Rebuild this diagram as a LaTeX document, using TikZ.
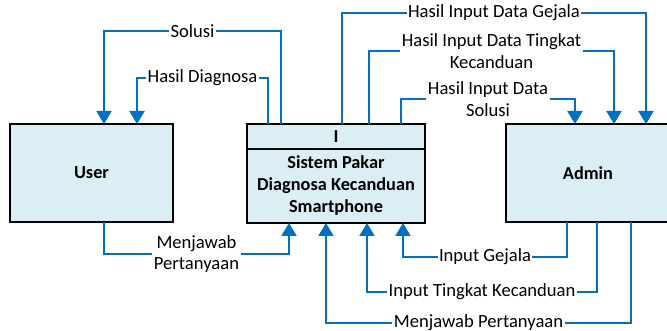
\documentclass[tikz,border=0pt]{standalone}
\usepackage{fontspec}
\setmainfont{Carlito}
\usetikzlibrary{positioning,arrows.meta}

\definecolor{boxfill}{RGB}{219,238,244}
\definecolor{flowblue}{RGB}{0,112,192}

\tikzset{
  box/.style={draw=black,line width=2.5pt,fill=boxfill,outer sep=0pt,
    align=center,font=\fontsize{18.3}{22}\selectfont\bfseries},
  flow/.style={draw=flowblue,line width=2pt,
    -{Triangle[width=15pt,length=13pt]}},
  lbl/.style={fill=white,inner xsep=1.5pt,inner ysep=0pt,pos=.25,
    align=center,font=\fontsize{18.6}{21.5}\selectfont}
}

\begin{document}
\begin{tikzpicture}[x=1pt,y=-1pt]
  \useasboundingbox (0,0) rectangle (667,331);

  % entities and process
  \node[box,minimum width=163pt,minimum height=98pt] (user) at (91.5,173) {User};
  \node[box,minimum width=164pt,minimum height=98pt] (admin) at (588,173) {Admin};
  \node[box,minimum width=178pt,minimum height=25pt] (head) at (336,136.5) {I};
  \node[box,minimum width=178pt,minimum height=74pt,below=0pt of head] (sistem)
    {Sistem Pakar\\Diagnosa Kecanduan\\Smartphone};

  % outputs to user
  \draw[flow] ([xshift=34pt]head.north west) -- ++(0,-93)
    -| node[lbl] {Solusi} ([xshift=94pt]user.north west);
  \draw[flow] ([xshift=21pt]head.north west) -- ++(0,-46)
    -| node[lbl] {Hasil Diagnosa} ([xshift=127pt]user.north west);

  % outputs to admin
  \draw[flow] ([xshift=95pt]head.north west) -- ++(0,-111)
    -| node[lbl] {Hasil Input Data Gejala} ([xshift=140pt]admin.north west);
  \draw[flow] ([xshift=122pt]head.north west) -- ++(0,-73)
    -| node[lbl] {Hasil Input Data Tingkat\\Kecanduan} ([xshift=108pt]admin.north west);
  \draw[flow] ([xshift=154pt]head.north west) -- ++(0,-25)
    -| node[lbl] {Hasil Input Data\\Solusi} ([xshift=69pt]admin.north west);

  % inputs
  \draw[flow] ([xshift=94pt]user.south west) -- ++(0,32)
    -| node[lbl] {Menjawab\\Pertanyaan} ([xshift=42pt]sistem.south west);
  \draw[flow] ([xshift=61pt]admin.south west) -- ++(0,35)
    -| node[lbl] {Input Gejala} ([xshift=156pt]sistem.south west);
  \draw[flow] ([xshift=91pt]admin.south west) -- ++(0,70)
    -| node[lbl] {Input Tingkat Kecanduan} ([xshift=120pt]sistem.south west);
  \draw[flow] ([xshift=125pt]admin.south west) -- ++(0,101)
    -| node[lbl] {Menjawab Pertanyaan} ([xshift=79pt]sistem.south west);
\end{tikzpicture}
\end{document}
